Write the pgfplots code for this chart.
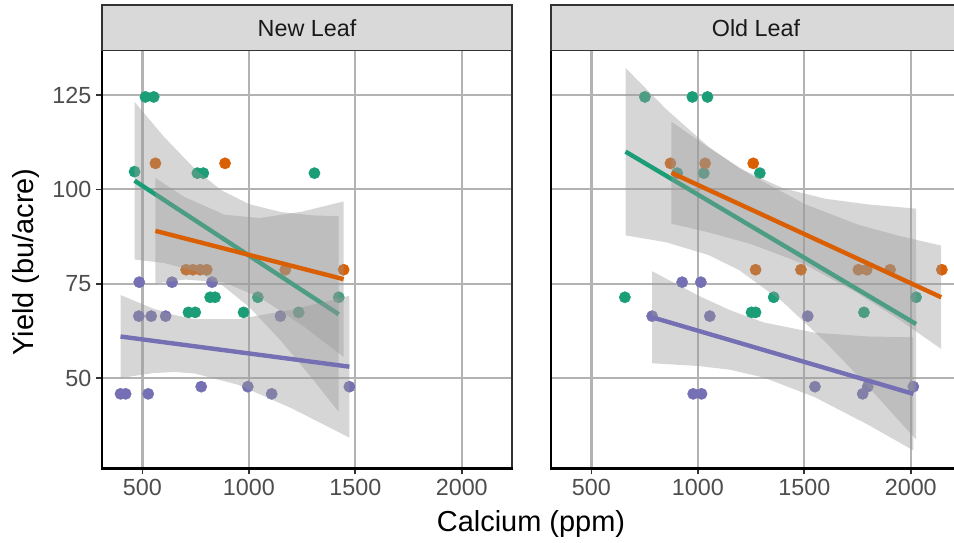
\documentclass[border=0pt]{standalone}
\usepackage{pgfplots}
\pgfplotsset{compat=1.18}
\usepackage{pgfplotstable}
\usepackage{fontspec}
\setmainfont{Liberation Sans}
\definecolor{cgreen}{HTML}{1B9E77}
\definecolor{corange}{HTML}{D95F02}
\definecolor{cpurple}{HTML}{7570B3}
\definecolor{gridc}{HTML}{B3B3B3}
\definecolor{tickc}{HTML}{4D4D4D}
\definecolor{stripc}{HTML}{D9D9D9}
\definecolor{borderc}{HTML}{333333}
\definecolor{ribc}{HTML}{999999}

% ---------- New Leaf ----------
\pgfplotstableread{
x y
514 124.5
553 124.5
463 104.7
758 104.3
786 104.3
1308 104.3
818 71.4
841 71.4
1042 71.4
1422 71.4
716 67.4
748 67.4
975 67.4
1234 67.4
}\newgreen
\pgfplotstableread{
x y
561 106.9
888 106.9
705 78.7
737 78.7
771 78.7
802 78.7
1171 78.7
1445 78.7
}\neworange
\pgfplotstableread{
x y
485 75.4
639 75.4
827 75.4
483 66.4
541 66.4
609 66.4
1148 66.4
397 45.8
421 45.8
527 45.8
776 47.7
995 47.7
1107 45.8
1472 47.7
}\newpurple
% ---------- Old Leaf ----------
\pgfplotstableread{
x y
751 124.5
974 124.5
1045 124.5
903 104.3
1028 104.3
1291 104.3
657 71.4
1356 71.4
2025 71.4
1252 67.4
1271 67.4
1780 67.4
}\oldgreen
\pgfplotstableread{
x y
871 106.9
1034 106.9
1260 106.9
1271 78.7
1484 78.7
1754 78.7
1793 78.7
1903 78.7
2146 78.7
}\oldorange
\pgfplotstableread{
x y
926 75.4
1014 75.4
785 66.4
1056 66.4
1516 66.4
978 45.8
1017 45.8
1550 47.7
1774 45.8
1798 47.7
2012 47.7
}\oldpurple

\pgfplotsset{
 facet/.style={
  scale only axis, width=307.5pt, height=313.35pt,
  xmin=310, xmax=2236, ymin=26.06, ymax=136.8,
  xtick={500,1000,1500,2000}, ytick={50,75,100,125},
  grid=major, major grid style={color=gridc, line width=1.6pt},
  axis line style={draw=borderc, line width=1.3pt},
  tick align=outside, tick pos=left,
  major tick length=4.5pt,
  tick style={borderc, line width=1.3pt},
  tick label style={font=\fontsize{17.5}{21}\selectfont, text=tickc},
  /pgf/number format/assume math mode=true,
  /pgf/number format/1000 sep={},
  clip marker paths=true,
  anchor=south west,
 },
 ribbon/.style={fill=ribc, fill opacity=0.4, draw=none},
 pts/.style={only marks, mark=*, color=#1, mark size=4.2pt, mark options={solid, fill=#1, draw=none}},
 fitline/.style={draw=#1, line width=3.3pt, no marks},
}

\begin{document}
\begin{tikzpicture}
\useasboundingbox (0,0) rectangle (715.5pt,407.25pt);

\begin{axis}[facet, name=L, at={(76.5pt,56pt)}]
\addplot[pts=cgreen] table {\newgreen};
\addplot[pts=corange] table {\neworange};
\addplot[pts=cpurple] table {\newpurple};
% green
\addplot[ribbon] coordinates {(463,123.2)(600,114.0)(750,105.2)(870,99.8)(1000,96.1)(1150,94.0)(1300,93.1)(1422,92.9)
 (1422,41.0)(1300,49.7)(1150,59.9)(1000,68.9)(870,74.8)(750,78.3)(600,80.5)(463,81.4)};
\addplot[fitline=cgreen] coordinates {(463,102.3)(1422,66.9)};
% orange
\addplot[ribbon] coordinates {(561,103.0)(700,97.9)(885,93.3)(1050,92.4)(1250,94.1)(1445,96.8)
 (1445,55.6)(1250,64.0)(1050,71.4)(885,75.3)(700,76.1)(561,75.0)};
\addplot[fitline=corange] coordinates {(561,89.0)(1445,76.2)};
% purple
\addplot[ribbon] coordinates {(397,72.0)(550,68.4)(650,66.7)(745,65.6)(950,65.6)(1200,68.1)(1350,70.1)(1472,71.8)
 (1472,34.2)(1350,37.7)(1200,42.0)(950,48.2)(745,51.2)(650,51.6)(550,51.3)(397,50.0)};
\addplot[fitline=cpurple] coordinates {(397,61.0)(1472,53.0)};
\end{axis}

\begin{axis}[facet, name=R, at={(413.25pt,56pt)}, yticklabels={}, ytick style={draw=none}]
\addplot[pts=cgreen] table {\oldgreen};
\addplot[pts=corange] table {\oldorange};
\addplot[pts=cpurple] table {\oldpurple};
% green
\addplot[ribbon] coordinates {(660,132.2)(850,121.3)(1050,111.3)(1194,105.6)(1400,100.3)(1600,97.5)(1800,96.0)(2025,94.9)
 (2025,33.7)(1800,47.7)(1600,59.5)(1400,70.1)(1194,78.6)(1050,82.6)(850,86.0)(660,87.8)};
\addplot[fitline=cgreen] coordinates {(660,110.0)(2025,64.3)};
% orange
\addplot[ribbon] coordinates {(876,117.9)(1050,111.1)(1250,103.8)(1502,96.1)(1750,90.7)(1950,87.6)(2143,85.1)
 (2143,57.7)(1950,65.3)(1750,72.5)(1502,80.1)(1250,85.5)(1050,88.6)(876,90.9)};
\addplot[fitline=corange] coordinates {(876,104.4)(2143,71.4)};
% purple
\addplot[ribbon] coordinates {(785,78.3)(1000,71.9)(1150,68.0)(1311,64.7)(1550,62.0)(1800,61.0)(2012,60.8)
 (2012,30.8)(1800,37.6)(1550,44.9)(1311,50.1)(1150,52.2)(1000,53.2)(785,53.9)};
\addplot[fitline=cpurple] coordinates {(785,66.1)(2012,45.8)};
\end{axis}

% axis lines (left & bottom)
\draw[black, line width=1.8pt, line cap=rect] (L.north west) -- (L.south west) -- (L.south east);
\draw[black, line width=1.8pt, line cap=rect] (R.north west) -- (R.south west) -- (R.south east);

% strips
\draw[fill=stripc, draw=borderc, line width=1.3pt] (L.north west) rectangle ([yshift=34.1pt]L.north east);
\draw[fill=stripc, draw=borderc, line width=1.3pt] (R.north west) rectangle ([yshift=34.1pt]R.north east);
\node[text=black!90, font=\fontsize{17.5}{21}\selectfont] at ([yshift=17.05pt]L.north) {New Leaf};
\node[text=black!90, font=\fontsize{17.5}{21}\selectfont] at ([yshift=17.05pt]R.north) {Old Leaf};

% axis titles
\node[anchor=base, font=\fontsize{21.7}{26}\selectfont] at (398.25pt,8.5pt) {Calcium (ppm)};
\node[anchor=base, rotate=90, font=\fontsize{21.7}{26}\selectfont] at (24.75pt,210.75pt) {Yield (bu/acre)};
\end{tikzpicture}
\end{document}
